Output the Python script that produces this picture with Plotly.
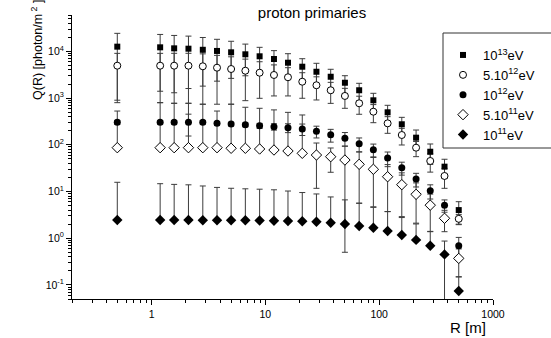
import math
import plotly.graph_objects as go

# ---------------- data ----------------
R = [0.5, 1.19, 1.58, 2.11, 2.82, 3.76, 5.0, 6.67, 8.9, 11.9, 15.8, 21.1,
     28.1, 37.5, 50, 66.7, 88.9, 118.6, 158, 211, 281, 375, 500]

q_13 = [12600, 12200, 11600, 11400, 10800, 10200, 9540, 8650, 7840, 6860, 5710,
        4690, 3660, 2860, 2130, 1470, 896, 496, 275, 142, 71, 34, 4.0]
e_13 = [11700, 10800, 10300, 9800, 9000, 7900, 6900, 5650, 4360, 3500, 3200,
        2270, 1890, 1270, 880, 600, 369, 204, 112, 65, 33, 15, 2.05]

q_5e12 = [4930, 4930, 4930, 4930, 4790, 4470, 4190, 3850, 3490, 3120, 2790,
          2240, 1880, 1470, 1110, 773, 511, 288, 162, 86.7, 45, 21.5, 2.6]
e_5e12 = [4133, 4133, 4157, 4157, 4052, 3732, 3452, 2970, 2502, 2010, 1680,
          1250, 970, 700, 506, 323, 214, 112, 63, 31, 19, 9.8, 0.6]

q_12 = [303, 303, 303, 303, 303, 288, 279, 269, 256, 244, 232,
        218, 195, 164, 138, 105, 78.5, 52, 32.4, 18.5, 10.4, 5.1, 0.69]
e_12 = [30, 25, 25, 149, 25, 25, 25, 25, 31, 38, 50,
        60, 55, 50, 45, 35, 25, 18, 10, 6, 3.5, 1.5, 0.35]

q_5e11 = [86.7, 86.7, 86.7, 86.7, 86.7, 86.7, 84.2, 84.2, 81.3, 77.3, 73.6,
          65.7, 60.4, 55.6, 47.2, 38.2, 29.9, 20.7, 14.0, 8.7, 5.1, 2.67, 0.37]
e_5e11 = [441, 710, 686, 686, 651, 441, 654, 552, 523, 481, 421,
          369, 48.7, 29.8, 46.7, 32.6, 25.2, 17, 11.1, 6.6, 3.7, 1.29, 0.22]

q_11 = [2.45, 2.45, 2.45, 2.45, 2.43, 2.43, 2.42, 2.42, 2.40, 2.37, 2.34,
        2.30, 2.26, 2.15, 2.02, 1.83, 1.68, 1.43, 1.17, 0.92, 0.69, 0.45, 0.074]
e_11 = [13.3, 12.25, 11.75, 11.45, 10.7, 9.8, 9.3, 9.0, 8.8, 8.5, 7.9,
        7.2, 6.6, 5.5, 4.6, 3.8, 2.9, 2.3, 1.6, 1.1, 0.69, 0.42, 0.074]

names = ["10<sup>13</sup>eV", "5.10<sup>12</sup>eV", "10<sup>12</sup>eV",
         "5.10<sup>11</sup>eV", "10<sup>11</sup>eV"]

x_tickvals = [1, 10, 100, 1000]
x_ticktext = ["1", "10", "100", "1000"]
y_tickvals = [0.1, 1, 10, 100, 1000, 10000]
y_ticktext = ["10<sup>-1</sup>", "10<sup>0</sup>", "10<sup>1</sup>",
              "10<sup>2</sup>", "10<sup>3</sup>", "10<sup>4</sup>"]

# ---------------- styles ----------------
FONT = "Liberation Sans, Arial, sans-serif"
series = [
    (q_13, e_13, dict(symbol="square", size=6, color="black")),
    (q_5e12, e_5e12, dict(symbol="circle", size=7, color="white",
                          line=dict(color="black", width=1))),
    (q_12, e_12, dict(symbol="circle", size=7, color="black")),
    (q_5e11, e_5e11, dict(symbol="diamond", size=8, color="white",
                          line=dict(color="black", width=1))),
    (q_11, e_11, dict(symbol="diamond", size=8, color="black")),
]

fig = go.Figure()

# error bars first (below all markers); lower part omitted when it would be <= 0
for q, e, _ in series:
    eminus = [ei if ei < qi else 0 for qi, ei in zip(q, e)]
    fig.add_trace(go.Scatter(
        x=R, y=q, mode="markers", marker=dict(size=4, opacity=0),
        error_y=dict(type="data", symmetric=False, array=e, arrayminus=eminus,
                     color="#3c3c3c", thickness=1, width=3),
        showlegend=False, hoverinfo="skip"))

for (q, e, mk), name in zip(series, names):
    fig.add_trace(go.Scatter(x=R, y=q, mode="markers", marker=mk, name=name))

x_minor = [m * 10 ** p for p in range(-1, 3) for m in range(2, 10)
           if m * 10 ** p >= 0.2]
y_minor = [m * 10 ** p for p in range(-2, 5) for m in range(2, 10)
           if 0.05 <= m * 10 ** p <= 60000]

fig.update_layout(
    width=551, height=338,
    margin=dict(l=72, r=58, t=15, b=39, autoexpand=False),
    paper_bgcolor="white", plot_bgcolor="white",
    font=dict(family=FONT, color="black"),
    title=dict(text="proton primaries", x=312 / 551, xanchor="center",
               y=1 - 13 / 338, yanchor="middle",
               font=dict(size=15, family=FONT, color="black")),
    xaxis=dict(type="log", range=[math.log10(0.2), 3],
               showline=True, linecolor="black", linewidth=1, mirror=False,
               showgrid=False, zeroline=False,
               ticks="outside", ticklen=5, tickcolor="black",
               tickvals=x_tickvals, ticktext=x_ticktext,
               tickfont=dict(size=10.5, family=FONT, color="black"),
               minor=dict(ticks="outside", ticklen=3, tickcolor="black",
                          tickvals=x_minor, showgrid=False)),
    yaxis=dict(type="log", range=[math.log10(0.05), math.log10(60000)],
               showline=True, linecolor="black", linewidth=1, mirror=False,
               showgrid=False, zeroline=False,
               ticks="outside", ticklen=5, tickcolor="black",
               tickvals=y_tickvals, ticktext=y_ticktext,
               tickfont=dict(size=10.5, family=FONT, color="black"),
               minor=dict(ticks="outside", ticklen=3, tickcolor="black",
                          tickvals=y_minor, showgrid=False)),
    legend=dict(x=(443 - 72) / 421, xanchor="left",
                y=(299 - 40) / 284, yanchor="top",
                bgcolor="rgba(0,0,0,0)", borderwidth=0,
                font=dict(size=13, family=FONT, color="black"),
                tracegroupgap=0),
    shapes=[dict(type="rect", xref="paper", yref="paper",
                 x0=(443 - 72) / 421, x1=1.35,
                 y0=(299 - 148) / 284, y1=(299 - 33) / 284,
                 line=dict(color="#333333", width=1), fillcolor="rgba(0,0,0,0)")],
    annotations=[
        dict(text="Q(R) [photon/m<sup> 2</sup> ]", textangle=-90,
             xref="paper", yref="paper",
             x=(37 - 72) / 421, y=(299 - 50) / 284,
             xanchor="center", yanchor="middle", showarrow=False,
             font=dict(size=12.5, family=FONT, color="black")),
        dict(text="R [m]", xref="paper", yref="paper",
             x=(468 - 72) / 421, y=(299 - 327) / 284,
             xanchor="center", yanchor="middle", showarrow=False,
             font=dict(size=15, family=FONT, color="black")),
    ],
)

fig.write_html("out.html")
